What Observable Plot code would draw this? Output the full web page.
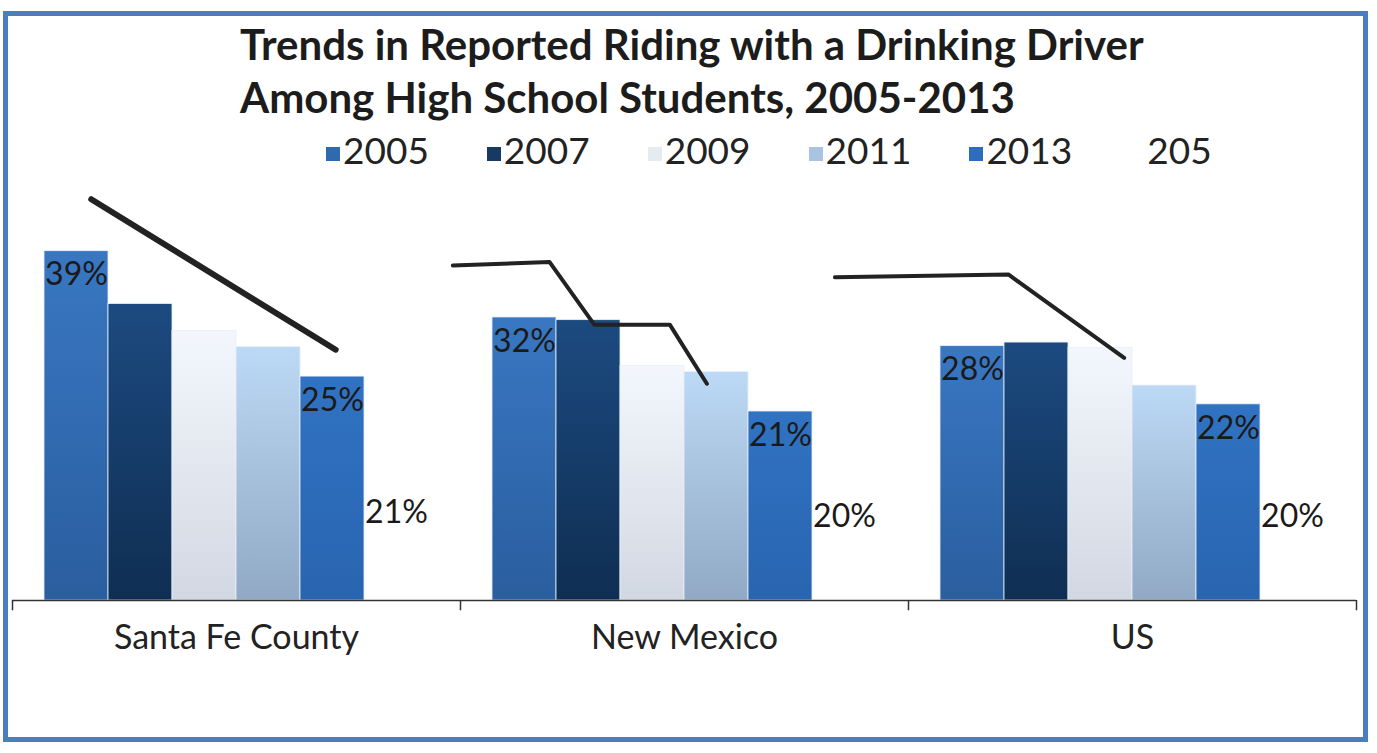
<!DOCTYPE html>
<html><head><meta charset="utf-8">
<script src="https://cdn.jsdelivr.net/npm/d3@7"></script>
<script src="https://cdn.jsdelivr.net/npm/@observablehq/plot@0.6"></script>
<style>
body{margin:0;width:1377px;height:753px;position:relative;background:#fff;font-family:Lato,sans-serif;overflow:hidden}
#frame{position:absolute;left:3px;top:11px;width:1365px;height:731px;border:5px solid #4a7ebf;box-sizing:border-box}
#title{position:absolute;left:240px;top:18px;font-weight:bold;font-size:42px;line-height:53px;color:#1c1c1c;white-space:nowrap}
#legend{position:absolute;left:326px;top:128px;display:flex;gap:58px;font-size:37px;line-height:44px;color:#222}
.item{display:flex;align-items:center}
.sw{width:14px;height:14px;margin-right:3px;margin-top:8px}
#chart{position:absolute;left:0;top:175px}
</style></head><body>
<div id="frame"></div>
<div id="title">Trends in Reported Riding with a Drinking Driver<br>Among High School Students, 2005-2013</div>
<div id="legend"></div>
<div id="chart"></div>
<script>
const groups = ["Santa Fe County", "New Mexico", "US"];
const years = ["2005", "2007", "2009", "2011", "2013", "205"];
const v2005 = [39, 31.6, 28.4];
const v2007 = [33.1, 31.3, 28.8];
const v2009 = [30.1, 26.2, 28.2];
const v2011 = [28.3, 25.5, 24.0];
const v2013 = [25, 21.1, 21.9];
const v205 = [21, 20, 20];
const endLabelYears = ["2005", "2013"];
const centerLabelYears = ["205"];
// black trend strokes drawn over each group: slot position within group, percent
const trendSFslot = [0.73, 4.55];
const trendSFval = [44.8, 28.0];
const trendNMslot = [-0.62, 0.89, 1.59, 2.77, 3.35];
const trendNMval = [37.4, 37.8, 30.8, 30.8, 24.2];
const trendUSslot = [-1.65, 1.06, 2.87];
const trendUSval = [36.1, 36.4, 27.1];

const grads = {
  "2005": ["#3977c2", "#2a5e9f"],
  "2007": ["#1c4a80", "#0f2e52"],
  "2009": ["#f3f7fd", "#d2d8e2"],
  "2011": ["#bcd9f5", "#91a9c4"],
  "2013": ["#3073c2", "#2964b0"]
};
const swatch = {"2005": "#2f6ab0", "2007": "#173a63", "2009": "#e6ebf2", "2011": "#a9c4e2", "2013": "#2e6cc0", "205": "transparent"};

const series = [v2005, v2007, v2009, v2011, v2013, v205];
const rows = [];
groups.forEach((g, gi) => years.forEach((y, si) => rows.push({group: g, year: y, slot: si, value: series[si][gi]})));
const mk = (g, s, v) => s.map((x, i) => ({group: g, slot: x, value: v[i]}));
const trendA = mk(groups[0], trendSFslot, trendSFval);
const trendB = [...mk(groups[1], trendNMslot, trendNMval), ...mk(groups[2], trendUSslot, trendUSval)];

const xDomain = [-0.5, years.length + 0.5];
const ticks = groups.map(g => ({group: g, x: xDomain[0]})).concat([{group: groups[groups.length - 1], x: xDomain[1]}]);

// legend
const leg = d3.select("#legend");
years.forEach(y => {
  const it = leg.append("div").attr("class", "item");
  it.append("div").attr("class", "sw").style("background", swatch[y]);
  it.append("span").text(y);
});

const chart = Plot.plot({
  width: 1377, height: 540,
  marginLeft: 11, marginRight: 20, marginTop: 13, marginBottom: 115,
  fx: {domain: groups, padding: 0, label: null},
  x: {domain: xDomain, axis: null},
  y: {domain: [0, 46], axis: null},
  color: {type: "ordinal", domain: years, range: years.map(y => grads[y] ? `url(#g${y})` : "none")},
  style: {fontFamily: "Lato, sans-serif", fontSize: "32px", color: "#222", background: "transparent"},
  marks: [
    Plot.rect(rows.filter(d => grads[d.year]), {fx: "group", x1: "slot", x2: d => d.slot + 1, y1: 0, y2: "value", fill: "year", stroke: "#e9eff7", strokeWidth: 0.8}),
    Plot.ruleY([0], {stroke: "#333", strokeWidth: 1.5}),
    Plot.ruleX(ticks, {fx: "group", x: "x", y1: 0, y2: -1.15, stroke: "#333", strokeWidth: 1.5}),
    Plot.text(rows.filter(d => endLabelYears.includes(d.year)), {fx: "group", x: d => d.slot + 0.5, y: "value", text: d => Math.round(d.value) + "%", dy: 24, fontSize: 32, fill: "#1a1a1a"}),
    Plot.text(rows.filter(d => centerLabelYears.includes(d.year)), {fx: "group", x: d => d.slot + 0.5, y: d => d.value / 2, text: d => Math.round(d.value) + "%", dy: 6, fontSize: 32, fill: "#1a1a1a"}),
    Plot.line(trendA, {fx: "group", x: "slot", y: "value", stroke: "#222", strokeWidth: 6}),
    Plot.line(trendB, {fx: "group", x: "slot", y: "value", z: "group", stroke: "#222", strokeWidth: 4}),
    Plot.axisFx({anchor: "bottom", tickSize: 0, tickPadding: 24, fontSize: 34, fill: "#222", label: null})
  ]
});
const defs = d3.select(chart).insert("defs", ":first-child");
Object.entries(grads).forEach(([k, [a, b]]) => {
  const g = defs.append("linearGradient").attr("id", "g" + k).attr("x1", 0).attr("y1", 0).attr("x2", 0).attr("y2", 1);
  g.append("stop").attr("offset", "0%").attr("stop-color", a);
  g.append("stop").attr("offset", "100%").attr("stop-color", b);
});
document.getElementById("chart").appendChild(chart);
</script>
</body></html>
